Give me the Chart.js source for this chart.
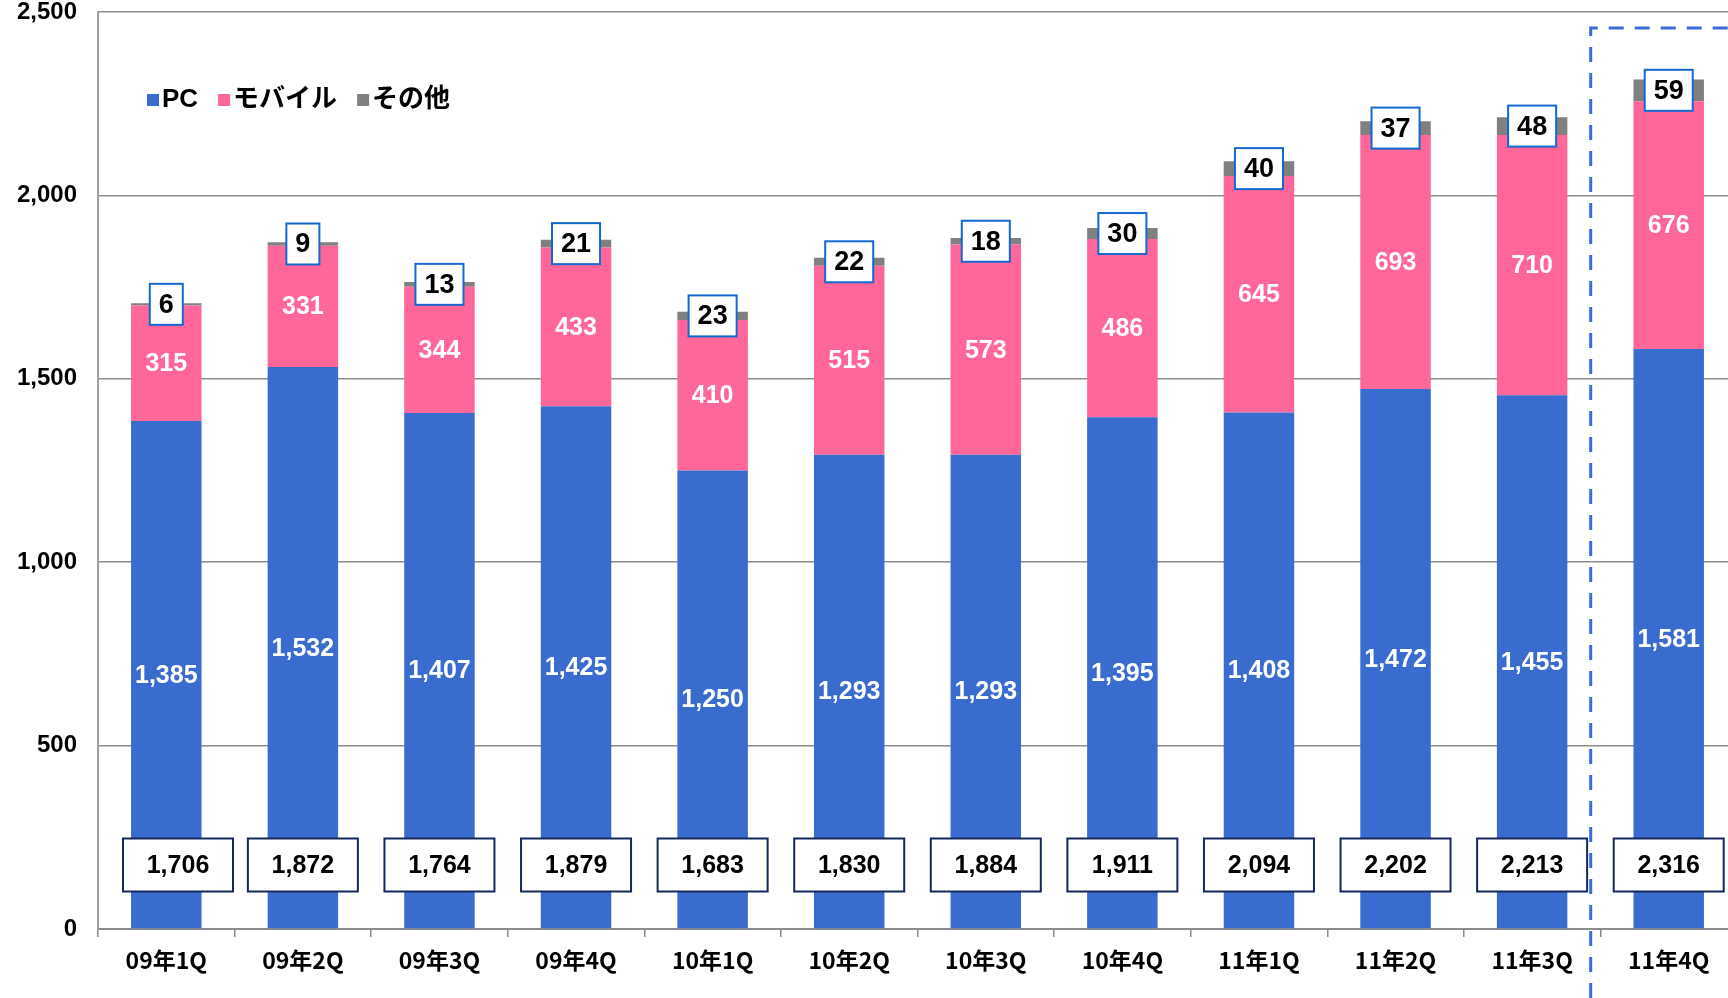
<!DOCTYPE html>
<html>
<head>
<meta charset="utf-8">
<script src="https://cdn.jsdelivr.net/npm/chart.js@4.4.1/dist/chart.umd.min.js"></script>
<style>
    html, body { margin: 0; padding: 0; background: #fff; overflow: hidden; }
    #wrap { width: 1740px; height: 998px; }
</style>
</head>
<body>
<div id="wrap"><canvas id="usersChart" width="1740" height="998"></canvas></div>
<script>
        // Data
        const quarters = ['09年1Q', '09年2Q', '09年3Q', '09年4Q', '10年1Q', '10年2Q', '10年3Q', '10年4Q', '11年1Q', '11年2Q', '11年3Q', '11年4Q'];
        const pcValues = [1385, 1532, 1407, 1425, 1250, 1293, 1293, 1395, 1408, 1472, 1455, 1581];
        const mobileValues = [315, 331, 344, 433, 410, 515, 573, 486, 645, 693, 710, 676];
        const otherValues = [6, 9, 13, 21, 23, 22, 18, 30, 40, 37, 48, 59];
        const totalValues = [1706, 1872, 1764, 1879, 1683, 1830, 1884, 1911, 2094, 2202, 2213, 2316];
        const yTicks = [0, 500, 1000, 1500, 2000, 2500];

        const FONT = "'Liberation Sans', 'Noto Sans CJK JP', sans-serif";
        const JP_FONT = "'Noto Sans CJK JP', 'Liberation Sans', sans-serif";

        const fmt = v => v.toLocaleString('en-US');

        // Labels inside bars, boxed "other" values and total boxes
        const labelPlugin = {
            id: 'barLabels',
            afterDatasetsDraw(chart) {
                const ctx = chart.ctx;
                const area = chart.chartArea;
                ctx.save();
                ctx.textAlign = 'center';
                ctx.textBaseline = 'middle';

                [0, 1].forEach(di => {
                    const meta = chart.getDatasetMeta(di);
                    const values = chart.data.datasets[di].data;
                    meta.data.forEach((bar, i) => {
                        ctx.fillStyle = '#ffffff';
                        ctx.font = 'bold 25px ' + FONT;
                        ctx.fillText(fmt(values[i]), bar.x, (bar.y + bar.base) / 2 + 1);
                    });
                });

                const otherMeta = chart.getDatasetMeta(2);
                otherMeta.data.forEach((bar, i) => {
                    const txt = String(otherValues[i]);
                    ctx.font = 'bold 27px ' + FONT;
                    const w = ctx.measureText(txt).width + 18;
                    const h = 41;
                    const cy = (bar.y + bar.base) / 2;
                    ctx.fillStyle = '#ffffff';
                    ctx.fillRect(bar.x - w / 2, cy - h / 2, w, h);
                    ctx.strokeStyle = '#1468d2';
                    ctx.lineWidth = 2;
                    ctx.strokeRect(bar.x - w / 2, cy - h / 2, w, h);
                    ctx.fillStyle = '#000000';
                    ctx.fillText(txt, bar.x, cy + 1);
                });

                const boxY = area.bottom - 64;
                const pcMeta = chart.getDatasetMeta(0);
                pcMeta.data.forEach((bar, i) => {
                    const w = 110, h = 53;
                    const left = Math.max(bar.x - w / 2, area.left + 25);
                    ctx.fillStyle = '#ffffff';
                    ctx.fillRect(left, boxY - h / 2, w, h);
                    ctx.strokeStyle = '#14285e';
                    ctx.lineWidth = 2;
                    ctx.strokeRect(left, boxY - h / 2, w, h);
                    ctx.fillStyle = '#000000';
                    ctx.font = 'bold 25px ' + FONT;
                    ctx.fillText(fmt(totalValues[i]), left + w / 2, boxY + 1);
                });
                ctx.restore();
            },
            afterDraw(chart) {
                const ctx = chart.ctx;
                const x = chart.scales.x;
                const area = chart.chartArea;

                // Legend inside plot area
                ctx.save();
                ctx.textBaseline = 'middle';
                ctx.textAlign = 'left';
                ctx.font = 'bold 26px ' + FONT;
                let lx = area.left + 49;
                const ly = 99;
                chart.data.datasets.forEach(ds => {
                    ctx.fillStyle = ds.backgroundColor;
                    ctx.fillRect(lx, ly - 5, 12, 12);
                    ctx.fillStyle = '#000000';
                    ctx.fillText(ds.label, lx + 15, ly + 1);
                    lx += 15 + ctx.measureText(ds.label).width + 20;
                });

                // Dashed box around the latest quarter
                const last = quarters.length - 1;
                const left = x.getPixelForValue(last) - 78;
                const top = area.top + 16;
                ctx.strokeStyle = '#3a6bd8';
                ctx.lineWidth = 3;
                ctx.setLineDash([15, 11]);
                ctx.beginPath();
                ctx.moveTo(left, chart.height);
                ctx.lineTo(left, top);
                ctx.lineTo(chart.width, top);
                ctx.stroke();
                ctx.restore();
            }
        };

        window.onload = function() {
            const usersCtx = document.getElementById('usersChart').getContext('2d');
            const usersChart = new Chart(usersCtx, {
                type: 'bar',
                data: {
                    labels: quarters,
                    datasets: [
                        { label: 'PC', data: pcValues, backgroundColor: '#3a6bcf' },
                        { label: 'モバイル', data: mobileValues, backgroundColor: '#ff6699' },
                        { label: 'その他', data: otherValues, backgroundColor: '#808080' }
                    ]
                },
                options: {
                    responsive: false,
                    animation: false,
                    layout: { padding: { top: 12, right: 3, left: 0, bottom: 0 } },
                    datasets: {
                        bar: { categoryPercentage: 1, barPercentage: 0.516, borderWidth: 0 }
                    },
                    scales: {
                        x: {
                            stacked: true,
                            grid: {
                                display: true,
                                drawOnChartArea: false,
                                drawTicks: true,
                                tickLength: 8,
                                color: '#8c8c8c',
                                lineWidth: 1.5
                            },
                            border: { color: '#8c8c8c', width: 2 },
                            ticks: {
                                color: '#000000',
                                padding: 9,
                                font: { family: JP_FONT, size: 23, weight: 'bold' }
                            },
                            afterFit(scale) { scale.height = 69; }
                        },
                        y: {
                            stacked: true,
                            min: 0,
                            max: yTicks[yTicks.length - 1],
                            afterBuildTicks(scale) {
                                scale.ticks = yTicks.map(v => ({ value: v }));
                            },
                            grid: {
                                color: '#8c8c8c',
                                lineWidth: 1.5,
                                drawTicks: true,
                                tickLength: 21,
                                tickColor: 'rgba(0,0,0,0)'
                            },
                            border: { color: '#a0a0a0', width: 2 },
                            ticks: {
                                color: '#000000',
                                padding: 0,
                                font: { family: FONT, size: 24, weight: 'bold', lineHeight: 1 },
                                callback: v => fmt(v)
                            },
                            afterFit(scale) { scale.width = 98; }
                        }
                    },
                    plugins: {
                        legend: { display: false },
                        tooltip: { enabled: false }
                    }
                },
                plugins: [labelPlugin]
            });
        };
</script>
</body>
</html>
